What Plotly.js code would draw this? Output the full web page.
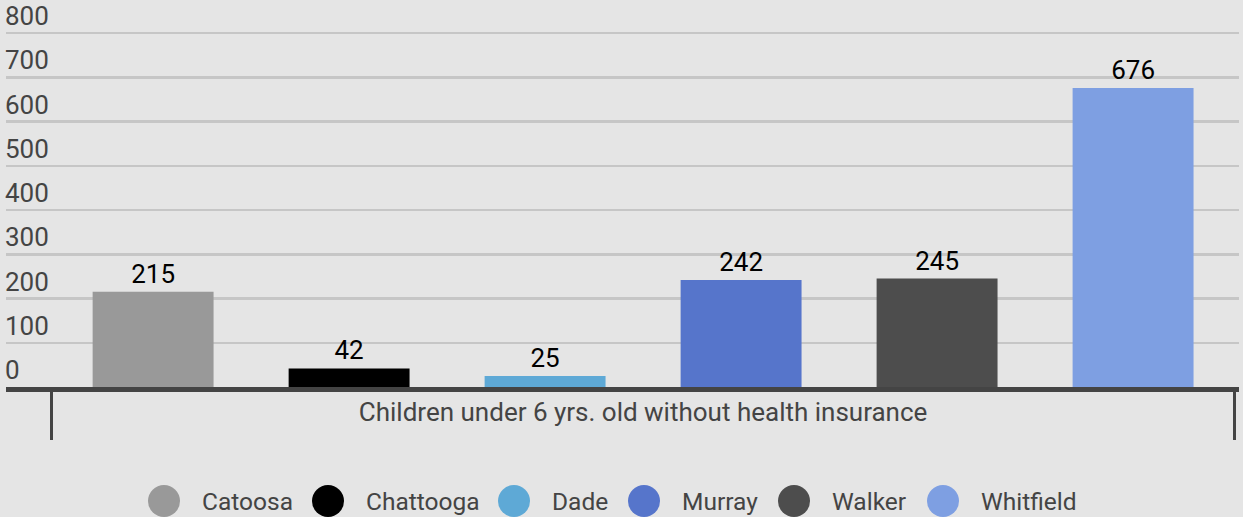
<!DOCTYPE html>
<html>
<head>
<meta charset="utf-8">
<script src="https://cdn.plot.ly/plotly-3.0.1.min.js"></script>
<style>
html,body{margin:0;padding:0;background:#e5e5e5;}
#chart{width:1243px;height:517px;}
</style>
</head>
<body>
<div id="chart"></div>
<script>
const category = "Children under 6 yrs. old without health insurance";
const seriesNames = ["Catoosa", "Chattooga", "Dade", "Murray", "Walker", "Whitfield"];
const seriesValues = [215, 42, 25, 242, 245, 676];
const seriesColors = ["#999999", "#000000", "#5ea9d6", "#5675cb", "#4d4d4d", "#7e9fe2"];
const yTicks = [0, 100, 200, 300, 400, 500, 600, 700, 800];

const W = 1243, H = 517;
const M = {l: 6, r: 4, t: 0, b: 130};
const plotW = W - M.l - M.r, plotH = H - M.t - M.b;
const FONT = "Roboto, sans-serif";

const traces = seriesNames.map((n, i) => ({
  type: "bar",
  name: n,
  x: [category],
  y: [seriesValues[i]],
  text: [String(seriesValues[i])],
  textposition: "outside",
  textfont: {family: FONT, size: 26, color: "#000000"},
  marker: {color: seriesColors[i]},
  cliponaxis: false,
  showlegend: false,
  hoverinfo: "name+y"
}));

// custom legend (circle markers): left edges of the legend items, in pixels
const LEG_SIZE = 24.5;
const legendLeft = [148, 312, 498, 628, 778, 927];
const shapes = [], annotations = [];
const cy = 501;
const toPX = x => (x - M.l) / plotW;
const toPY = y => (H - M.b - y) / plotH;
seriesNames.forEach((n, i) => {
  const px = legendLeft[i];
  shapes.push({type: "circle", xref: "paper", yref: "paper", xsizemode: "pixel", ysizemode: "pixel",
    xanchor: toPX(px + 16), yanchor: toPY(cy), x0: -16, x1: 16, y0: -16, y1: 16,
    fillcolor: seriesColors[i], line: {width: 0}});
  annotations.push({xref: "paper", yref: "paper", x: toPX(px + 52), y: toPY(cy), xanchor: "left", yanchor: "middle",
    text: n, showarrow: false, font: {family: FONT, size: LEG_SIZE, color: "#444444"}});
});

const layout = {
  width: W, height: H,
  margin: M,
  paper_bgcolor: "#e5e5e5",
  plot_bgcolor: "#e5e5e5",
  barmode: "group",
  bargap: 0.006,
  bargroupgap: 0.383,
  showlegend: false,
  font: {family: FONT, size: 26, color: "#444444"},
  xaxis: {
    type: "category",
    range: [-0.5385, 0.5037],
    tickson: "boundaries",
    ticks: "outside",
    ticklen: 48,
    tickwidth: 3,
    tickcolor: "#444444",
    showline: true,
    linewidth: 4.5,
    linecolor: "#444444",
    showgrid: false,
    ticklabelstandoff: -2,
    tickfont: {family: FONT, size: 26, color: "#444444"},
    fixedrange: true
  },
  yaxis: {
    range: [0, 874.6],
    tickvals: yTicks,
    ticktext: yTicks.map(String),
    ticklabelposition: "inside",
    ticklabelshift: -17,
    ticklabelstandoff: -4,
    ticks: "",
    showgrid: true,
    gridcolor: "#c6c6c6",
    gridwidth: 2.5,
    zeroline: false,
    showline: false,
    tickfont: {family: FONT, size: 26, color: "#444444"},
    fixedrange: true
  },
  shapes: shapes,
  annotations: annotations
};

Plotly.newPlot("chart", traces, layout, {displayModeBar: false, staticPlot: true});
</script>
</body>
</html>
